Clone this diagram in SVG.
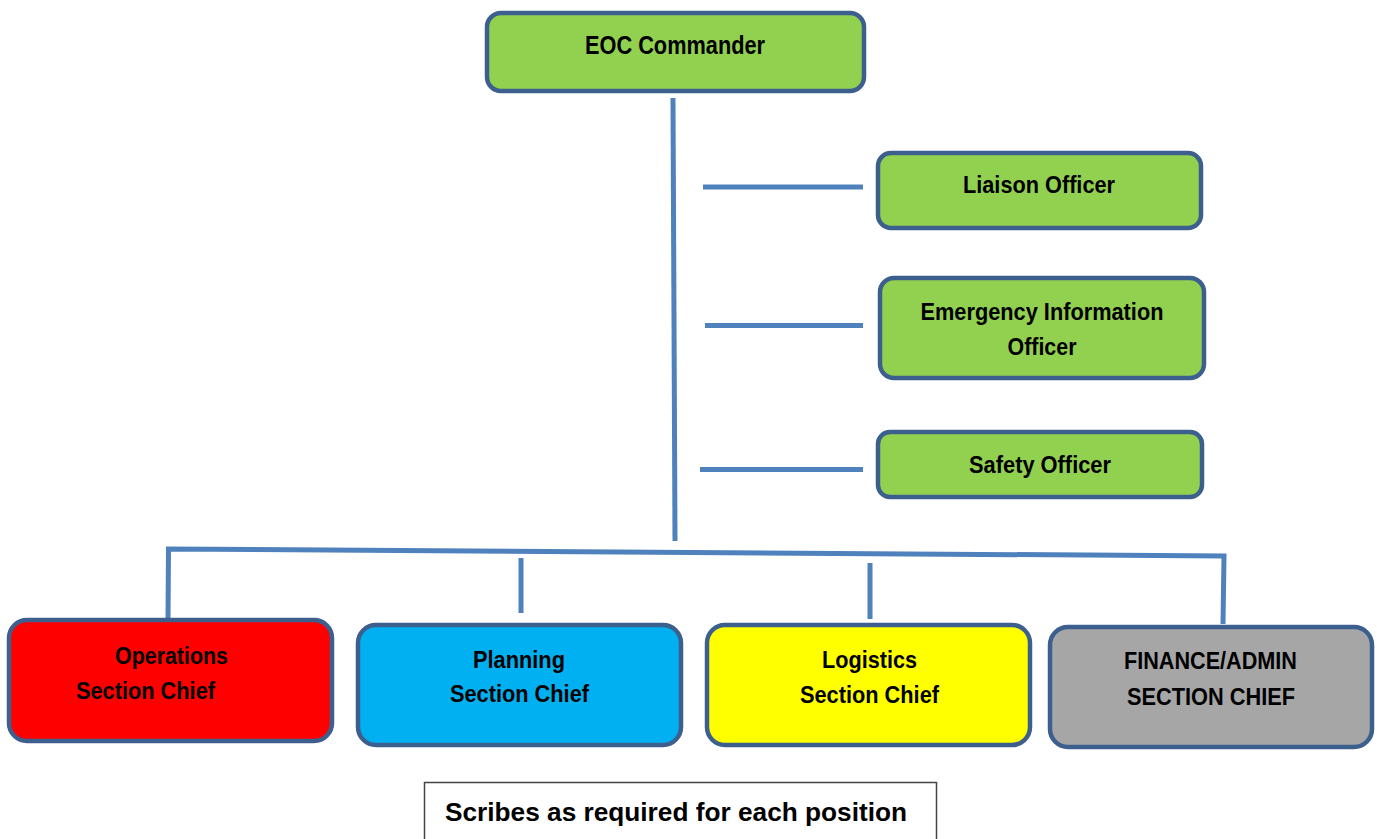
<svg xmlns="http://www.w3.org/2000/svg" width="1377" height="839" viewBox="0 0 1377 839">
<style>
.box{stroke:#3D5F8E;stroke-width:4.5}
.green{fill:#92D050}
.t{font-family:"Liberation Sans Narrow","Liberation Sans",Arial,sans-serif;font-weight:bold;fill:#000;text-anchor:middle}
.s24{font-size:24px}
.s26{font-size:26px}
.ln{stroke:#4F81BD;stroke-width:5;fill:none}
</style>
<rect width="1377" height="839" fill="#fff"/>
<g id="connectors">
<line class="ln" x1="673" y1="98" x2="675" y2="541"/>
<line class="ln" x1="703" y1="187" x2="863" y2="187"/>
<line class="ln" x1="705" y1="325.5" x2="863" y2="325.5"/>
<line class="ln" x1="700" y1="469.5" x2="863" y2="469.5"/>
<polyline class="ln" points="168,618 168.5,549 1224,556 1223,624"/>
<line class="ln" x1="521" y1="558" x2="521" y2="613"/>
<line class="ln" x1="870" y1="563" x2="870" y2="619"/>
</g>
<g id="eoc">
<rect class="box green" x="487" y="13" width="377" height="78" rx="14"/>
<text class="t s26" x="675" y="54" textLength="180" lengthAdjust="spacingAndGlyphs">EOC Commander</text>
</g>
<g id="liaison">
<rect class="box green" x="878" y="153" width="323" height="75" rx="13"/>
<text class="t s24" x="1039" y="193" textLength="152" lengthAdjust="spacingAndGlyphs">Liaison Officer</text>
</g>
<g id="eio">
<rect class="box green" x="880" y="278" width="324" height="100" rx="14"/>
<text class="t s24" x="1042" y="320" textLength="243" lengthAdjust="spacingAndGlyphs">Emergency Information</text>
<text class="t s24" x="1042" y="355" textLength="69" lengthAdjust="spacingAndGlyphs">Officer</text>
</g>
<g id="safety">
<rect class="box green" x="878" y="432" width="324" height="65" rx="12"/>
<text class="t s24" x="1040" y="473" textLength="142" lengthAdjust="spacingAndGlyphs">Safety Officer</text>
</g>
<g id="operations">
<rect class="box" fill="#FF0000" x="9" y="620" width="323" height="121" rx="18"/>
<text class="t s24" x="171.5" y="664" textLength="113" lengthAdjust="spacingAndGlyphs">Operations</text>
<text class="t s24" x="145.5" y="699" textLength="139" lengthAdjust="spacingAndGlyphs">Section Chief</text>
</g>
<g id="planning">
<rect class="box" fill="#00B0F0" x="358" y="625" width="323" height="120" rx="18"/>
<text class="t s24" x="519" y="668" textLength="92" lengthAdjust="spacingAndGlyphs">Planning</text>
<text class="t s24" x="519.5" y="702" textLength="139" lengthAdjust="spacingAndGlyphs">Section Chief</text>
</g>
<g id="logistics">
<rect class="box" fill="#FFFF00" x="707" y="625" width="323" height="120" rx="18"/>
<text class="t s24" x="869.5" y="668" textLength="95" lengthAdjust="spacingAndGlyphs">Logistics</text>
<text class="t s24" x="869.5" y="703" textLength="139" lengthAdjust="spacingAndGlyphs">Section Chief</text>
</g>
<g id="finance">
<rect class="box" fill="#A6A6A6" x="1050" y="627" width="322" height="120" rx="18"/>
<text class="t s24" x="1210.5" y="669" textLength="173" lengthAdjust="spacingAndGlyphs">FINANCE/ADMIN</text>
<text class="t s24" x="1211" y="705" textLength="168" lengthAdjust="spacingAndGlyphs">SECTION CHIEF</text>
</g>
<g id="scribes">
<rect x="424.5" y="782.5" width="512" height="70" fill="#fff" stroke="#444" stroke-width="1.5"/>
<text class="t s26" x="676" y="821" textLength="462" lengthAdjust="spacingAndGlyphs">Scribes as required for each position</text>
</g>
</svg>
